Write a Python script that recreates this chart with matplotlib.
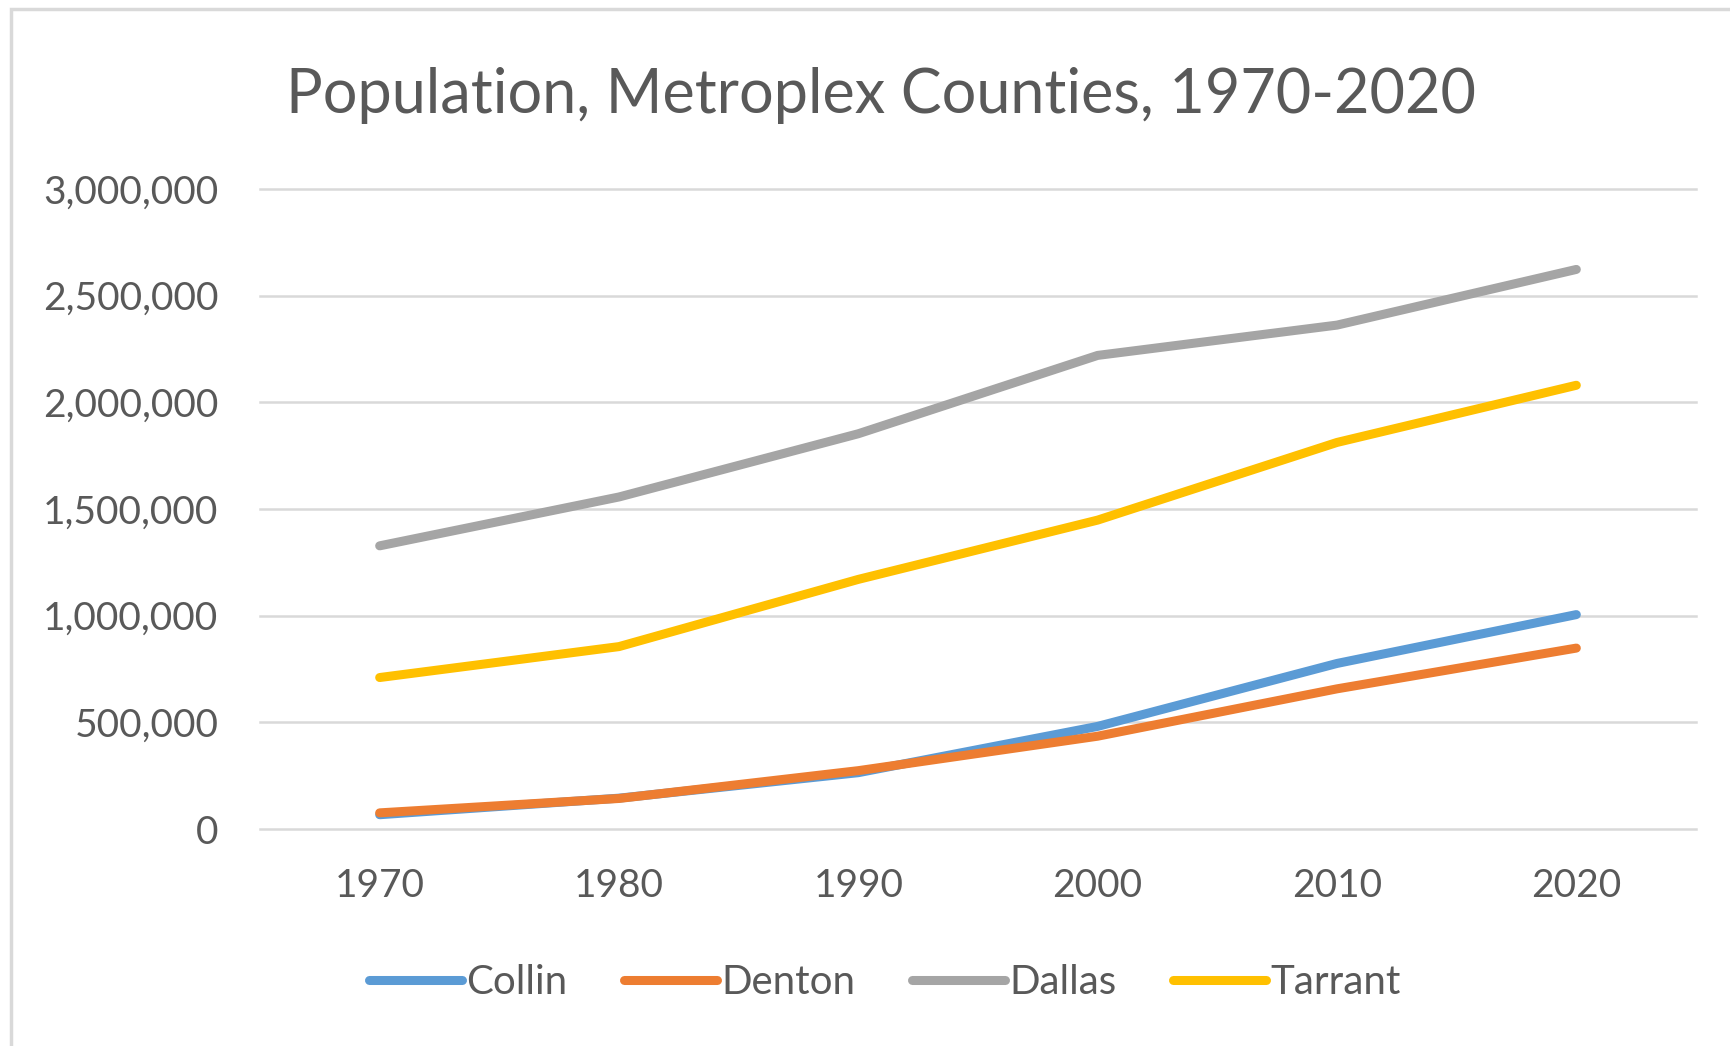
import matplotlib.pyplot as plt
from matplotlib.patches import Rectangle
from matplotlib.ticker import FuncFormatter

years = [1970, 1980, 1990, 2000, 2010, 2020]
collin = [66920, 144576, 264036, 481000, 776000, 1005000]
denton = [75633, 143126, 273525, 435000, 657000, 848000]
dallas = [1327321, 1556390, 1852810, 2220000, 2362000, 2623000]
tarrant = [710000, 855000, 1170103, 1448000, 1812000, 2080000]

series_names = ["Collin", "Denton", "Dallas", "Tarrant"]
series_values = [collin, denton, dallas, tarrant]
series_colors = ["#5B9BD5", "#ED7D31", "#A5A5A5", "#FFC000"]
y_ticks = [0, 500000, 1000000, 1500000, 2000000, 2500000, 3000000]

TEXT = "#595959"
GRID = "#D9D9D9"
FONT = "Lato"

fig = plt.figure(figsize=(17.31, 10.46), dpi=100)
fig.patch.set_facecolor("white")

# chart frame (light gray border, cropped on right/bottom)
fig.patches.append(Rectangle((11 / 1731, -0.05), 1.2, 1 - 9 / 1046 + 0.05,
                             transform=fig.transFigure, fill=False,
                             edgecolor=GRID, linewidth=2.5))

ax = fig.add_axes([260 / 1731, 1 - 829 / 1046, (1696 - 260) / 1731, (829 - 189) / 1046])
ax.set_xlim(1965, 2025)
ax.set_ylim(0, 3000000)

for name, vals, color in zip(series_names, series_values, series_colors):
    ax.plot(years, vals, color=color, linewidth=6.5, label=name,
            solid_capstyle="round", solid_joinstyle="round", zorder=3)

ax.set_yticks(y_ticks)
ax.yaxis.set_major_formatter(FuncFormatter(lambda v, p: f"{int(v):,}"))
ax.set_xticks(years)
ax.grid(axis="y", color=GRID, linewidth=1.8)
for gl in ax.get_ygridlines():
    gl.set_clip_on(False)
ax.set_axisbelow(True)
for s in ax.spines.values():
    s.set_visible(False)
ax.tick_params(length=0, labelcolor=TEXT, labelsize=28)
ax.tick_params(axis="y", pad=30)
ax.tick_params(axis="x", pad=28)
for lbl in ax.get_xticklabels() + ax.get_yticklabels():
    lbl.set_fontfamily(FONT)

fig.text(881 / 1731, 1 - 96 / 1046, "Population, Metroplex Counties, 1970-2020",
         ha="center", va="center", fontsize=44, color=TEXT, fontfamily=FONT)

leg = fig.legend(loc="center", bbox_to_anchor=(885 / 1731, 1 - 983 / 1046),
                 ncol=4, frameon=False, handlelength=2.3, handletextpad=0.12,
                 columnspacing=1.4, prop={"family": FONT, "size": 29})
for t in leg.get_texts():
    t.set_color(TEXT)

fig.savefig("out.png", dpi=100)
